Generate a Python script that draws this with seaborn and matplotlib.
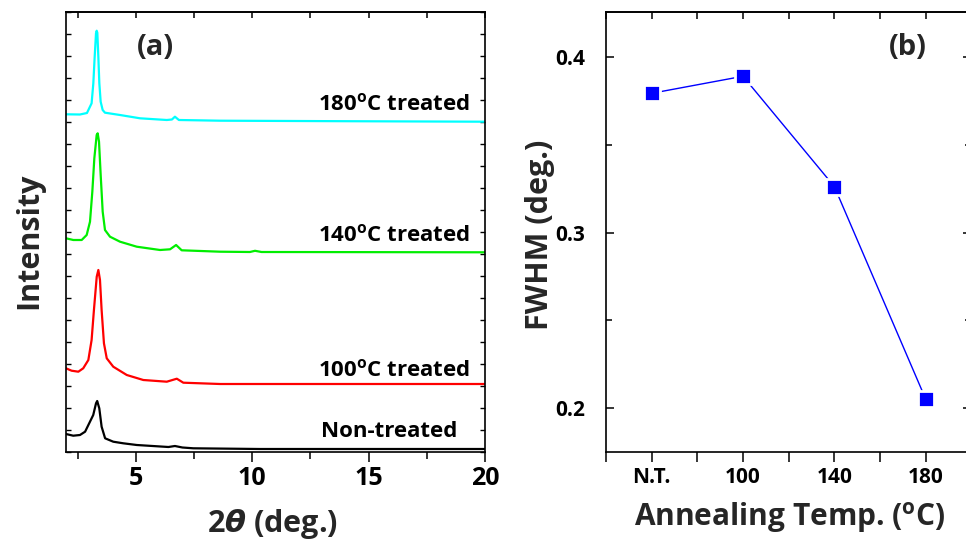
import numpy as np
import pandas as pd
import matplotlib
matplotlib.use("Agg")
import matplotlib.pyplot as plt
import seaborn as sns
from matplotlib.ticker import MultipleLocator, FixedLocator

# ---------------- data ----------------
# XRD patterns, intensity relative to each curve's own baseline (arb. units)
tt_nt = [2.0, 2.31, 2.60, 2.82, 3.03, 3.17, 3.29, 3.34, 3.43, 3.53, 3.68, 4.03, 4.46, 5.04, 6.40, 6.68, 7.00, 7.47, 10.33, 20.0]
int_nt = [18, 16.3, 17, 20.3, 30.3, 37, 48.7, 51, 43.7, 25.3, 13.7, 10.3, 8.7, 7, 5.0, 6.0, 4.5, 3.7, 3.0, 3.0]

tt_100 = [2.0, 2.24, 2.53, 2.74, 2.96, 3.10, 3.20, 3.32, 3.39, 3.46, 3.53, 3.63, 3.75, 4.03, 4.61, 5.32, 6.33, 6.76, 7.04, 8.62, 20.0]
int_100 = [15.7, 13.3, 12.3, 15.7, 24, 44, 74, 107.3, 114, 104, 74, 40.7, 25.7, 17.3, 9, 4, 2.3, 5.3, 1.3, 0, 0]

tt_140 = [2.0, 2.315, 2.674, 2.888, 3.031, 3.131, 3.217, 3.318, 3.361, 3.418, 3.49, 3.576, 3.675, 3.89, 4.32, 5.04, 6.04, 6.47, 6.73, 6.97, 8.62, 9.9, 10.12, 10.4, 20.0]
int_140 = [13.7, 12, 12, 17, 30.3, 60.3, 93.7, 117, 118.7, 110.3, 77, 40.3, 22, 15.3, 10.3, 5.3, 2, 2.7, 7, 1.7, 0.3, 0, 1.2, 0, -0.3]

tt_180 = [2.0, 2.6, 2.9, 3.10, 3.174, 3.232, 3.289, 3.318, 3.346, 3.389, 3.432, 3.489, 3.575, 3.675, 4.32, 5.18, 6.33, 6.55, 6.68, 6.85, 8.62, 14.0, 20.0]
int_180 = [7.7, 7.5, 9, 18.7, 38.7, 65.3, 88.7, 91.3, 89.3, 65.3, 38.7, 20.3, 12, 9.3, 7, 3.7, 2, 2.5, 5.3, 2, 1.3, 0.8, 0.3]

curve_labels = ["Non-treated", "100$^{\\mathbf{o}}$C treated",
                "140$^{\\mathbf{o}}$C treated", "180$^{\\mathbf{o}}$C treated"]
curve_offsets = [0, 68, 200, 330]
curve_colors = ["#000000", "#FF0000", "#00EE00", "#00FFFF"]

# FWHM panel
anneal_cats = ["N.T.", "100", "140", "180"]
fwhm = [0.3793, 0.3890, 0.3262, 0.2052]

# ---------------- style ----------------
FONT = "Open Sans"
sns.set_theme(style="ticks")
plt.rcParams.update({
    "font.family": [FONT, "DejaVu Sans"],
    "font.weight": "bold",
    "axes.labelweight": "bold",
    "mathtext.fontset": "custom",
    "mathtext.rm": FONT + ":bold",
    "mathtext.bf": FONT + ":bold",
    "mathtext.it": "DejaVu Sans:italic:bold",
    "axes.linewidth": 1.2,
    "axes.edgecolor": "black",
    "xtick.color": "black",
    "ytick.color": "black",
})

fig = plt.figure(figsize=(9.66, 5.42), dpi=100)
axL = fig.add_axes([66 / 966, 1 - 452 / 542, 419 / 966, 440 / 542])
axR = fig.add_axes([606 / 966, 1 - 452 / 542, 365.3 / 966, 440 / 542])

# ---------------- left panel ----------------
series = [(tt_nt, int_nt), (tt_100, int_100), (tt_140, int_140), (tt_180, int_180)]
for (tt, inten), off, col in zip(series, curve_offsets, curve_colors):
    df = pd.DataFrame({"tt": tt, "I": np.asarray(inten) + off})
    sns.lineplot(data=df, x="tt", y="I", ax=axL, color=col, linewidth=1.6,
                 estimator=None, sort=False)

axL.set_xlim(2, 20)
axL.set_ylim(0, 440)
axL.xaxis.set_major_locator(FixedLocator([5, 10, 15, 20]))
axL.xaxis.set_minor_locator(MultipleLocator(2.5))
axL.yaxis.set_major_locator(MultipleLocator(22))
axL.set_yticklabels([])
axL.tick_params(axis="x", which="major", direction="out", length=7, width=1.1,
                labelsize=18, pad=3)
axL.tick_params(axis="x", which="minor", direction="out", length=5, width=1.1)
axL.tick_params(axis="y", which="major", direction="in", length=3.5, width=1.0,
                left=True, right=True, labelleft=False)
for lab in axL.get_xticklabels():
    lab.set_fontweight("bold")
topL = axL.secondary_xaxis("top")
topL.xaxis.set_major_locator(FixedLocator([5, 10, 15, 20]))
topL.xaxis.set_minor_locator(MultipleLocator(2.5))
topL.tick_params(axis="x", which="both", direction="in", length=4, width=1.1,
                 labeltop=False)

axL.set_xlabel("$\\mathit{2\\theta}$ (deg.)", fontsize=22, fontweight="bold")
axL.xaxis.set_label_coords(0.492, -0.124)
axL.set_ylabel("Intensity", fontsize=22, fontweight="bold")
axL.yaxis.set_label_coords(-0.052, 0.48)

label_pos = [(18.8, 14.7), (19.35, 75.3), (19.35, 210.3), (19.35, 342)]
for txt, (xx, yy) in zip(curve_labels, label_pos):
    axL.text(xx, yy, txt, ha="right", va="baseline", fontsize=16,
             fontweight="bold", color="black")
axL.text(0.2124, 0.92, "(a)", transform=axL.transAxes, ha="center", va="center",
         fontsize=21, fontweight="bold")

# ---------------- right panel ----------------
dfr = pd.DataFrame({"T": anneal_cats, "FWHM": fwhm})
sns.lineplot(data=dfr, x="T", y="FWHM", ax=axR, color="#0000FF", linewidth=1.0,
             marker="s", markersize=11.5, markerfacecolor="#0000FF",
             markeredgecolor="white", markeredgewidth=2.0, sort=False)
axR.set_xlim(-0.5, 3.5)
axR.set_ylim(0.175, 0.4256)
axR.xaxis.set_major_locator(FixedLocator([0, 1, 2, 3]))
axR.xaxis.set_minor_locator(FixedLocator([-0.5, 0.5, 1.5, 2.5, 3.5]))
axR.set_xticklabels(anneal_cats)
axR.yaxis.set_major_locator(FixedLocator([0.2, 0.3, 0.4]))
axR.yaxis.set_minor_locator(FixedLocator([0.25, 0.35]))
axR.set_yticklabels(["0.2", "0.3", "0.4"])
axR.tick_params(axis="x", which="both", direction="out", length=7, width=1.1,
                labelsize=15, pad=4)
axR.tick_params(axis="y", which="major", direction="in", length=6, width=1.1,
                left=True, right=True, labelsize=15, pad=15)
axR.tick_params(axis="y", which="minor", direction="in", length=4, width=1.1,
                left=True, right=True)
for lab in axR.get_xticklabels() + axR.get_yticklabels():
    lab.set_fontweight("bold")
topR = axR.secondary_xaxis("top")
topR.xaxis.set_major_locator(FixedLocator([-0.5, 0, 0.5, 1, 1.5, 2, 2.5, 3, 3.5]))
topR.tick_params(axis="x", which="both", direction="in", length=5, width=1.1,
                 labeltop=False)

axR.set_xlabel("Annealing Temp. ($^{\\mathbf{o}}$C)", fontsize=21.5, fontweight="bold")
axR.xaxis.set_label_coords(0.504, -0.108)
axR.set_ylabel("FWHM (deg.)", fontsize=22, fontweight="bold")
axR.yaxis.set_label_coords(-0.14, 0.493)
axR.text(0.8267, 0.92, "(b)", transform=axR.transAxes, ha="center", va="center",
         fontsize=21, fontweight="bold")

fig.savefig("out.png", dpi=100)
